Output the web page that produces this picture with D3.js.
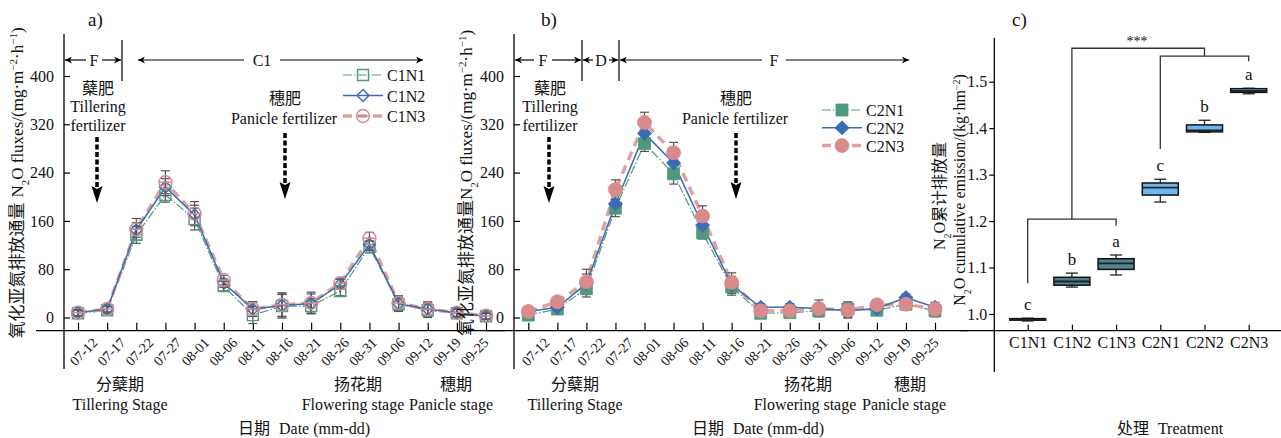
<!DOCTYPE html>
<html><head><meta charset="utf-8">
<script src="https://cdn.jsdelivr.net/npm/d3@7"></script>
<style>
body{margin:0;background:#fff;}
text{font-family:"Liberation Serif","Times New Roman",serif;fill:#111;}
.cjk{font-family:"Noto Sans CJK SC","Noto Sans CJK JP",sans-serif;}
</style></head>
<body>
<script>
// ---------- data ----------
const dates = ["07-12","07-17","07-22","07-27","08-01","08-06","08-11","08-16","08-21","08-26","08-31","09-06","09-12","09-19","09-25"];
const yTicks = [0,80,160,240,320,400];

const c1n1 = [7, 12, 137, 203, 163, 52, 4, 19, 19, 44, 117, 22, 12, 7, 2];
const c1n2 = [8, 14, 145, 216, 170, 57, 14, 20, 23, 55, 121, 23, 14, 8, 2];
const c1n3 = [8, 14, 146, 224, 172, 62, 14, 21, 24, 57, 131, 24, 14, 8, 3];
const c1n1Err = [5, 6, 14, 12, 18, 8, 14, 20, 12, 8, 10, 12, 12, 7, 5];
const c1n2Err = [5, 5, 12, 14, 16, 7, 12, 18, 16, 8, 10, 10, 10, 6, 5];
const c1n3Err = [5, 5, 18, 19, 20, 8, 12, 20, 18, 8, 10, 12, 12, 7, 6];

const c2n1 = [4, 14, 48, 181, 288, 238, 140, 51, 7, 8, 11, 14, 12, 22, 11];
const c2n2 = [10, 17, 56, 188, 305, 256, 153, 54, 17, 17, 15, 11, 15, 33, 17];
const c2n3 = [10, 26, 59, 212, 323, 273, 168, 58, 11, 11, 15, 12, 21, 22, 14];
const c2n1Err = [7, 6, 14, 14, 13, 17, 10, 14, 6, 6, 8, 12, 6, 6, 10];
const c2n2Err = [8, 6, 16, 14, 14, 15, 12, 14, 6, 6, 8, 12, 6, 6, 8];
const c2n3Err = [8, 6, 21, 16, 17, 17, 17, 16, 6, 6, 14, 12, 6, 6, 8];

const treatments = ["C1N1","C1N2","C1N3","C2N1","C2N2","C2N3"];
const boxLow    = [0.985, 1.058, 1.084, 1.241, 1.391, 1.474];
const boxQ1     = [0.987, 1.062, 1.096, 1.256, 1.392, 1.477];
const boxMedian = [0.988, 1.070, 1.109, 1.272, 1.395, 1.480];
const boxQ3     = [0.990, 1.079, 1.119, 1.282, 1.407, 1.485];
const boxHigh   = [0.991, 1.088, 1.127, 1.290, 1.417, 1.486];
const letters   = ["c","b","a","c","b","a"];
const cTicks = [1.0,1.1,1.2,1.3,1.4,1.5];

// ---------- colors ----------
const green = "#4f9a7c", blue = "#3a6bb5", pink = "#d98a8b", pinkLine = "#dfa0a0";
const errColor = "#555";
const SERIF = '"Liberation Serif","Times New Roman",serif';

const svg = d3.select("body").append("svg").attr("width",1281).attr("height",438);
const defs = svg.append("defs");
defs.append("marker").attr("id","ah").attr("viewBox","0 0 10 10").attr("refX",10).attr("refY",5)
  .attr("markerWidth",9).attr("markerHeight",7).attr("markerUnits","userSpaceOnUse").attr("orient","auto-start-reverse")
  .append("path").attr("d","M0,0 L10,5 L0,10 L3,5 Z").attr("fill","#000");

const yScale = d3.scaleLinear().domain([0,400]).range([317.5,76]);
const axisY = 330.7;

function markerPath(shape, size){
  if(shape==="square") return d3.symbol(d3.symbolSquare, size*size)();
  if(shape==="diamond") return d3.symbol(d3.symbolDiamond2, size*size*0.75)();
  return d3.symbol(d3.symbolCircle, size*size*0.785)();
}

function drawMarker(g, shape, filled, color, x, y, size){
  const p = g.append("path").attr("d", markerPath(shape,size)).attr("transform",`translate(${x},${y})`);
  if(filled){ p.attr("fill",color).attr("stroke",color).attr("stroke-width",0.8); }
  else {
    p.attr("fill","none").attr("stroke",color).attr("stroke-width",1.4);
    if(shape==="circle") g.append("line").attr("x1",x-size/2).attr("x2",x+size/2).attr("y1",y).attr("y2",y)
       .attr("stroke",color).attr("stroke-width",1.4);
  }
}

function lineMarkup(g, series, x){
  const order = [0,2,1];
  order.forEach(i=>{
    const s = series[i];
    g.append("path").datum(s.values)
      .attr("d", d3.line().x((d,j)=>x(dates[j])).y(d=>yScale(d)))
      .attr("fill","none").attr("stroke",s.lineColor).attr("stroke-width",s.width)
      .attr("stroke-dasharray",s.dash);
  });
  series.forEach(s=>{
    s.values.forEach((v,j)=>{
      const cx = x(dates[j]), e = s.err[j];
      const y1 = yScale(v+e), y2 = yScale(v-e);
      g.append("line").attr("x1",cx).attr("x2",cx).attr("y1",y1).attr("y2",y2).attr("stroke",errColor).attr("stroke-width",1.2);
      [y1,y2].forEach(yy=>g.append("line").attr("x1",cx-4.5).attr("x2",cx+4.5).attr("y1",yy).attr("y2",yy).attr("stroke",errColor).attr("stroke-width",1.2));
    });
  });
  series.forEach(s=>{
    s.values.forEach((v,j)=>drawMarker(g, s.shape, s.filled, s.color, x(dates[j]), yScale(v), s.size));
  });
}

function yTitle(g, x, y, cn, space){
  const t = g.append("text").attr("transform",`translate(${x},${y}) rotate(-90)`).attr("text-anchor","middle").style("font-size","17px");
  t.append("tspan").attr("class","cjk").text(cn);
  t.append("tspan").attr("dx",space?5:0).text("N");
  t.append("tspan").attr("baseline-shift","sub").style("font-size","11px").text("2");
  t.append("tspan").text("O fluxes/(mg·m");
  t.append("tspan").attr("baseline-shift","super").style("font-size","11px").text("−2");
  t.append("tspan").text("·h");
  t.append("tspan").attr("baseline-shift","super").style("font-size","11px").text("−1");
  t.append("tspan").text(")");
}

function panel(opts){
  const g = svg.append("g");
  const x = d3.scalePoint().domain(dates).range(opts.xRange);
  const xl = d3.scalePoint().domain(dates).range(opts.labelRange);
  const ax = opts.axisX;
  g.append("line").attr("x1",ax).attr("x2",ax).attr("y1",34).attr("y2",369).attr("stroke","#000").attr("stroke-width",1.3);
  g.append("line").attr("x1",opts.xLine[0]).attr("x2",opts.xLine[1]).attr("y1",axisY).attr("y2",axisY).attr("stroke","#000").attr("stroke-width",1.3);
  const ya = g.append("g").attr("transform",`translate(${ax},0)`).call(d3.axisLeft(yScale).tickValues(yTicks).tickSize(-6).tickPadding(10));
  ya.select(".domain").remove();
  ya.selectAll("line").attr("stroke","#000").attr("stroke-width",1.2);
  ya.selectAll("text").style("font-size","16px").style("font-family",SERIF).attr("fill","#111");
  const xa = g.append("g").attr("transform",`translate(0,${axisY})`).call(d3.axisBottom(x).tickSize(-8));
  xa.select(".domain").remove();
  xa.selectAll("line").attr("stroke","#000").attr("stroke-width",1.2);
  xa.selectAll("text").attr("x",0).attr("y",0).attr("dy","0.35em").attr("text-anchor","middle")
    .attr("transform",d=>`translate(${xl(d)-x(d)},21) rotate(-45)`).style("font-size","14px").style("font-family",SERIF).attr("fill","#111");

  lineMarkup(g, opts.series, x);

  g.append("text").attr("x",opts.label[0]).attr("y",opts.label[1]).style("font-size","19px").text(opts.label[2]);
  opts.dividers.forEach(dx=>g.append("line").attr("x1",dx).attr("x2",dx).attr("y1",40).attr("y2",81).attr("stroke","#000").attr("stroke-width",1.2));
  opts.periods.forEach(p=>{
    const [x1,x2,txt,tx,gap] = p;
    g.append("line").attr("x1",tx-gap).attr("x2",x1+1).attr("y1",60).attr("y2",60).attr("stroke","#000").attr("stroke-width",1.2).attr("marker-end","url(#ah)");
    g.append("line").attr("x1",tx+gap).attr("x2",x2-1).attr("y1",60).attr("y2",60).attr("stroke","#000").attr("stroke-width",1.2).attr("marker-end","url(#ah)");
    g.append("text").attr("x",tx).attr("y",65.5).attr("text-anchor","middle").style("font-size","16px").text(txt);
  });
  const tf = opts.tiller, pf = opts.panicle;
  g.append("text").attr("class","cjk").attr("x",tf).attr("y",94).attr("text-anchor","middle").style("font-size","16px").text("蘖肥");
  g.append("text").attr("x",tf).attr("y",112).attr("text-anchor","middle").style("font-size","16px").text("Tillering");
  g.append("text").attr("x",tf).attr("y",131).attr("text-anchor","middle").style("font-size","16px").text("fertilizer");
  g.append("text").attr("class","cjk").attr("x",pf).attr("y",104).attr("text-anchor","middle").style("font-size","16px").text("穗肥");
  g.append("text").attr("x",pf-1).attr("y",124).attr("text-anchor","middle").style("font-size","16px").text("Panicle fertilizer");
  [[tf-1,137,188],[pf,133,184]].forEach(a=>{
    g.append("line").attr("x1",a[0]).attr("x2",a[0]).attr("y1",a[1]).attr("y2",a[2]).attr("stroke","#000").attr("stroke-width",3.5).attr("stroke-dasharray","5,2.5");
    g.append("path").attr("d",`M${a[0]-5.5},${a[2]-2} L${a[0]},${a[2]+1} L${a[0]+5.5},${a[2]-2} L${a[0]},${a[2]+15} Z`).attr("fill","#000");
  });
  opts.series.forEach((s,i)=>{
    const ly = opts.legend[1] + i*opts.legend[3];
    const lx = opts.legend[0];
    g.append("line").attr("x1",lx).attr("x2",lx+40).attr("y1",ly).attr("y2",ly).attr("stroke",s.lineColor).attr("stroke-width",s.width).attr("stroke-dasharray",s.dash);
    drawMarker(g, s.shape, s.filled, s.color, lx+20, ly, s.size);
    g.append("text").attr("x",lx+44).attr("y",ly+6).style("font-size","16px").text(s.name);
  });
  opts.stages.forEach(s=>{
    g.append("text").attr("class","cjk").attr("x",s[0]).attr("y",390).attr("text-anchor","middle").style("font-size","16px").text(s[2]);
    g.append("text").attr("x",s[1]).attr("y",410).attr("text-anchor","middle").style("font-size","16px").text(s[3]);
  });
  const dt = g.append("text").attr("x",opts.dateX).attr("y",434).attr("text-anchor","middle").style("font-size","16px");
  dt.append("tspan").attr("class","cjk").text("日期");
  dt.append("tspan").attr("dx",9).text("Date (mm-dd)");
  yTitle(g, opts.titleX, 183, "氧化亚氮排放通量", opts.space);
}

panel({
  xRange:[78,486], labelRange:[83,474], axisX:64, xLine:[36,505], label:[88,26,"a)"],
  dividers:[122],
  periods:[[64,122,"F",94,8],[137,424,"C1",262,18]],
  tiller:98, panicle:285,
  legend:[343,75,0,20.5],
  stages:[[120,120,"分蘖期","Tillering Stage"],[358,353,"扬花期","Flowering stage"],[456,451,"穗期","Panicle stage"]],
  dateX:304, titleX:23, space:true,
  series:[
    {name:"C1N1",values:c1n1,err:c1n1Err,shape:"square",filled:false,color:green,lineColor:green,width:1.2,dash:"9,2,1.5,2",size:11},
    {name:"C1N2",values:c1n2,err:c1n2Err,shape:"diamond",filled:false,color:blue,lineColor:blue,width:1.5,dash:null,size:11},
    {name:"C1N3",values:c1n3,err:c1n3Err,shape:"circle",filled:false,color:pink,lineColor:pinkLine,width:3.5,dash:"9,6",size:13}
  ]
});
panel({
  xRange:[528.3,935], labelRange:[535,924], axisX:514, xLine:[486,968], label:[541,26,"b)"],
  dividers:[582,619],
  periods:[[514,582,"F",543,9],[582,619,"D",601,8],[619,910,"F",774,12]],
  tiller:550, panicle:736,
  legend:[822,110,0,17.8],
  stages:[[575,575,"分蘖期","Tillering Stage"],[808,805,"扬花期","Flowering stage"],[910,904,"穗期","Panicle stage"]],
  dateX:758, titleX:472, space:false,
  series:[
    {name:"C2N1",values:c2n1,err:c2n1Err,shape:"square",filled:true,color:green,lineColor:green,width:1.2,dash:"9,2,1.5,2",size:12},
    {name:"C2N2",values:c2n2,err:c2n2Err,shape:"diamond",filled:true,color:blue,lineColor:blue,width:1.5,dash:null,size:13},
    {name:"C2N3",values:c2n3,err:c2n3Err,shape:"circle",filled:true,color:pink,lineColor:pinkLine,width:3.5,dash:"9,6",size:14}
  ]
});

// ---------- panel c ----------
(function(){
  const g = svg.append("g");
  const cy = d3.scaleLinear().domain([1.0,1.5]).range([314,81.7]);
  const cx = d3.scalePoint().domain(treatments).range([1027.7,1248.7]);
  const ax = 994.3;
  g.append("line").attr("x1",ax).attr("x2",ax).attr("y1",37.7).attr("y2",372).attr("stroke","#000").attr("stroke-width",1.3);
  g.append("line").attr("x1",960).attr("x2",1281).attr("y1",axisY).attr("y2",axisY).attr("stroke","#000").attr("stroke-width",1.3);
  const ya = g.append("g").attr("transform",`translate(${ax},0)`).call(d3.axisLeft(cy).tickValues(cTicks).tickSize(5).tickPadding(2).tickFormat(d3.format(".1f")));
  ya.select(".domain").remove();
  ya.selectAll("line").attr("stroke","#000").attr("stroke-width",1.2);
  ya.selectAll("text").style("font-size","16px").style("font-family",SERIF).attr("fill","#111");
  const xa = g.append("g").attr("transform",`translate(0,${axisY})`).call(d3.axisBottom(cx).tickSize(-6));
  xa.select(".domain").remove();
  xa.selectAll("line").attr("stroke","#000").attr("stroke-width",1.2);
  xa.selectAll("text").attr("y",6).attr("dy","0.71em").style("font-size","16px").style("font-family",SERIF).attr("fill","#111");

  const bw = 36;
  treatments.forEach((t,i)=>{
    const x = cx(t);
    const col = i<3 ? "#4e8592" : "#6db5ee";
    g.append("line").attr("x1",x).attr("x2",x).attr("y1",cy(boxHigh[i])).attr("y2",cy(boxLow[i])).attr("stroke","#222").attr("stroke-width",1.3);
    [boxHigh[i],boxLow[i]].forEach(v=>g.append("line").attr("x1",x-6).attr("x2",x+6).attr("y1",cy(v)).attr("y2",cy(v)).attr("stroke","#222").attr("stroke-width",1.3));
    g.append("rect").attr("x",x-bw/2).attr("y",cy(boxQ3[i])).attr("width",bw).attr("height",Math.max(cy(boxQ1[i])-cy(boxQ3[i]),1.5))
      .attr("fill",col).attr("stroke","#111").attr("stroke-width",1.5);
    g.append("line").attr("x1",x-bw/2).attr("x2",x+bw/2).attr("y1",cy(boxMedian[i])).attr("y2",cy(boxMedian[i])).attr("stroke","#222").attr("stroke-width",1.8);
    g.append("text").attr("x",x).attr("y",cy(boxHigh[i])-8).attr("text-anchor","middle").style("font-size","17px").text(letters[i]);
  });
  const br = (pts)=>g.append("path").attr("d",d3.line()(pts)).attr("fill","none").attr("stroke","#333").attr("stroke-width",1.3);
  br([[cx("C1N1"),cy(1.066)],[cx("C1N1"),cy(1.204)],[cx("C1N3"),cy(1.204)],[cx("C1N3"),cy(1.19)]]);
  br([[cx("C1N2"),cy(1.204)],[cx("C1N2"),cy(1.572)],[cx("C2N2"),cy(1.572)],[cx("C2N2"),cy(1.555)]]);
  br([[cx("C2N1"),cy(1.355)],[cx("C2N1"),cy(1.555)],[cx("C2N3"),cy(1.555)],[cx("C2N3"),cy(1.544)]]);
  g.append("text").attr("x",1137).attr("y",46).attr("text-anchor","middle").style("font-size","14px").text("***");
  g.append("text").attr("x",1012).attr("y",26).style("font-size","19px").text("c)");
  const t1 = g.append("text").attr("transform","translate(945,196) rotate(-90)").attr("text-anchor","middle").style("font-size","16px");
  t1.append("tspan").text("N");
  t1.append("tspan").attr("baseline-shift","sub").style("font-size","10px").text("2");
  t1.append("tspan").text("O");
  t1.append("tspan").attr("class","cjk").text("累计排放量");
  const t2 = g.append("text").attr("transform","translate(965,190) rotate(-90)").attr("text-anchor","middle").style("font-size","16px");
  t2.append("tspan").text("N");
  t2.append("tspan").attr("baseline-shift","sub").style("font-size","10px").text("2");
  t2.append("tspan").text("O cumulative emission/(kg·hm");
  t2.append("tspan").attr("baseline-shift","super").style("font-size","10px").text("−2");
  t2.append("tspan").text(")");
  const tt = g.append("text").attr("x",1170).attr("y",434).attr("text-anchor","middle").style("font-size","16px");
  tt.append("tspan").attr("class","cjk").text("处理");
  tt.append("tspan").attr("dx",9).text("Treatment");
})();
</script>
</body></html>
